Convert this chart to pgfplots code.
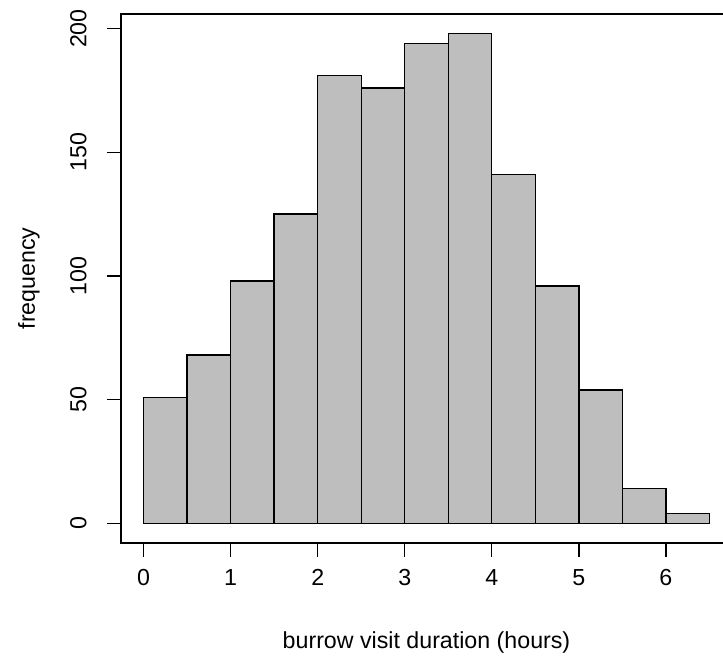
\documentclass[border=0pt]{standalone}
\usepackage{pgfplots}
\pgfplotsset{compat=1.18}
\usepackage{fontspec}
\setmainfont{Liberation Sans}
\definecolor{rgray}{HTML}{BEBEBE}
\begin{document}
\begin{tikzpicture}[x=1pt,y=1pt]
\begin{axis}[
  at={(0,0)}, anchor=south west,
  scale only axis, width=305.5pt, height=264.5pt,
  xmin=-0.26, xmax=6.76, ymin=-7.92, ymax=205.92,
  xtick={0,1,...,6}, ytick={0,50,...,200},
  tick align=outside, major tick length=7pt,
  tick style={black, line width=0.7pt},
  axis line style={line width=0.7pt},
  xtick pos=bottom, ytick pos=left,
  font=\fontsize{11.6}{13.9}\selectfont,
  /pgf/number format/assume math mode=true,
  xticklabel style={anchor=north, inner sep=0pt},
  yticklabel style={rotate=90, anchor=south, inner sep=0pt},
  xticklabel shift=6pt, yticklabel shift=10pt,
]
\addplot[ybar interval, fill=rgray, draw=black, line width=0.7pt] coordinates {
(0,51) (0.5,68) (1,98) (1.5,125) (2,181) (2.5,176) (3,194) (3.5,198)
(4,141) (4.5,96) (5,54) (5.5,14) (6,4) (6.5,4)};
\end{axis}
\node[font=\fontsize{11.6}{13.9}\selectfont, anchor=base, inner sep=0pt] at (152.75,-53) {burrow visit duration (hours)};
\node[font=\fontsize{11.6}{13.9}\selectfont, rotate=90, anchor=base, inner sep=0pt] at (-43,132.25) {frequency};
\pgfresetboundingbox
\path (-60.5,-57) rectangle (301,271.5);
\end{tikzpicture}
\end{document}
